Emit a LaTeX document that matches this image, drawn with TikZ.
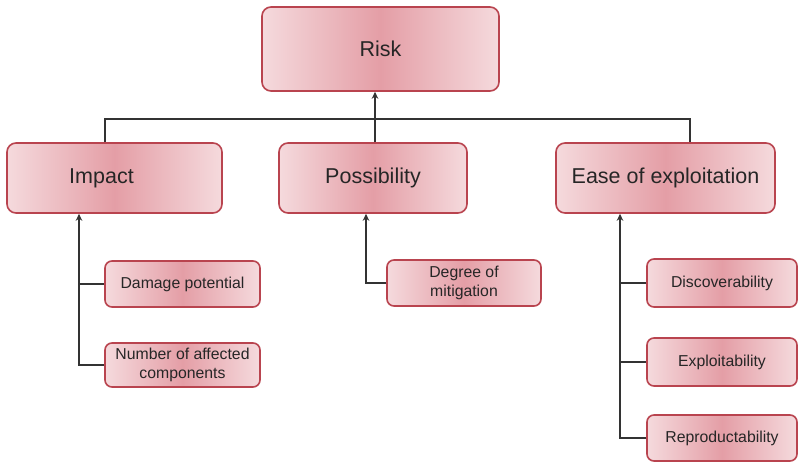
\documentclass[tikz,border=0pt]{standalone}
\usepackage{fontspec}
\setmainfont{Liberation Sans}
\usetikzlibrary{arrows.meta,shadings}
\definecolor{pinkedge}{HTML}{F5DADD}
\definecolor{pinkmid}{HTML}{E49EA6}
\definecolor{boxline}{HTML}{B9444F}
\definecolor{linegray}{HTML}{333333}
\definecolor{txt}{HTML}{262626}
\tikzset{
  box/.style={draw=boxline, line width=1.6pt, rounded corners=9pt,
    left color=pinkedge, right color=pinkedge, middle color=pinkmid,
    text=txt, align=center, inner sep=0pt},
  bigbox/.style={box, minimum height=70pt, font=\fontsize{21.5}{24}\selectfont},
  smallbox/.style={box, minimum width=154pt, minimum height=46pt, rounded corners=7pt,
    font=\fontsize{15.8}{19}\selectfont},
  conn/.style={draw=linegray, line width=2.2pt},
  arr/.style={conn, -{Stealth[length=7pt,width=6.5pt]}}
}
\begin{document}
\begin{tikzpicture}[x=1pt,y=-1pt]
\useasboundingbox[fill=white] (0,0) rectangle (798,463);
\node[bigbox, minimum width=237pt, minimum height=84pt] (risk) at (380.5,49) {Risk};
\node[bigbox, minimum width=215pt] (impact) at (114.5,178) {Impact\hspace*{26pt}};
\node[bigbox, minimum width=188pt] (poss) at (373,178) {Possibility};
\node[bigbox, minimum width=219pt] (ease) at (665.5,178) {Ease of exploitation};

\node[smallbox, minimum width=155pt] (damage) at (182.5,284) {Damage potential};
\node[smallbox, minimum width=155pt, minimum height=44pt] (number) at (182.5,365) {Number of affected\\components};
\node[smallbox] (degree) at (464,283) {Degree of\\mitigation};
\node[smallbox, minimum width=150pt, minimum height=48pt] (disc) at (722,283) {Discoverability};
\node[smallbox, minimum width=150pt, minimum height=48pt] (expl) at (722,362) {Exploitability};
\node[smallbox, minimum width=150pt] (repr) at (722,438) {Reproductability};

\coordinate (busL) at (105,119);
\coordinate (busM) at (375,119);
\coordinate (busR) at (690,119);
\coordinate (iv) at (79,0);
\coordinate (pv) at (366,0);
\coordinate (ev) at (620,0);

\draw[conn] (impact.north -| busL) -- (busL) -- (busR) -- (ease.north -| busR);
\draw[conn] (poss.north -| busM) -- (busM);
\draw[arr] (busM) -- (risk.south -| busM);

\draw[arr] (number.west) -| (impact.south -| iv);
\draw[conn] (damage.west) -- (damage.west -| iv);
\draw[arr] (degree.west) -| (poss.south -| pv);
\draw[arr] (repr.west) -| (ease.south -| ev);
\draw[conn] (disc.west) -- (disc.west -| ev);
\draw[conn] (expl.west) -- (expl.west -| ev);
\end{tikzpicture}
\end{document}
